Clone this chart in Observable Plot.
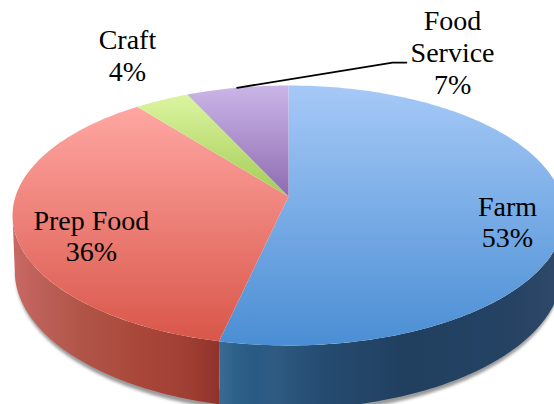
<!DOCTYPE html>
<html>
<head>
<meta charset="utf-8">
<script src="https://cdn.jsdelivr.net/npm/d3@7"></script>
<script src="https://cdn.jsdelivr.net/npm/@observablehq/plot@0.6"></script>
<style>
html,body{margin:0;padding:0;background:#fff;overflow:hidden}
svg{display:block;overflow:hidden}
</style>
</head>
<body>
<div id="chart"></div>
<script>
// Values (clockwise from 12 o'clock)
const categories = ["Farm", "Prep Food", "Craft", "Food Service"];
const values = [53.5, 35.9, 3.7, 6.9];
const labels = ["Farm\n53%", "Prep Food\n36%", "Craft\n4%", "Food\nService\n7%"];
const labelX = [0.802, -0.722, -0.59, 0.601];
const labelY = [-0.195, -0.305, 1.115, 1.14];
const topStops = [
  ["#a6c9f7", "#4a8ed4"],
  ["#ffa7a2", "#d9564a"],
  ["#dcf5a0", "#a4cc55"],
  ["#cbb6e8", "#8e6bb0"]
];
const wallStops = [
  [[0,"#3a6a94"],[.05,"#2c618a"],[.1,"#285a84"],[.16,"#2f5a82"],[.3,"#254b70"],[.55,"#213f5f"],[.8,"#244263"],[.92,"#2b4566"],[1,"#304a6a"]],
  [[0,"#c96864"],[.15,"#bc5f57"],[.35,"#b05447"],[.6,"#a9483a"],[.85,"#9f3e32"],[1,"#8f332b"]]
];

// Perspective of the disc
const W = 554, H = 404, tilt = 0.146, depth = 0.425, bottomScale = 0.992;
const rad = d => d * Math.PI / 180;
const proj = (deg, drop = 0, sx = 1) => {
  const s = Math.sin(rad(deg)), c = Math.cos(rad(deg)), q = 1 + tilt * c;
  return {x: sx * s / q, y: (c - drop) / q};
};
const arc = (a0, a1, drop = 0, sx = 1) => {
  const n = Math.max(2, Math.ceil(Math.abs(a1 - a0)));
  return d3.range(n + 1).map(i => proj(a0 + (a1 - a0) * i / n, drop, sx));
};

const total = d3.sum(values);
let acc = 0;
const slices = values.map((v, i) => {
  const a0 = acc; acc += v / total * 360;
  return {i, a0, a1: acc};
});
const visStart = Math.acos(-tilt) * 180 / Math.PI, visEnd = 360 - visStart;

const wallPoly = (a0, a1) => {
  const t = arc(a0, a1), b = arc(a1, a0, depth, bottomScale);
  return [...t, ...b];
};
const walls = [
  wallPoly(visStart, slices[0].a1),
  wallPoly(slices[1].a0, visEnd)
];
const shadow = [...arc(visStart, visEnd, depth + 0.03, bottomScale - 0.004), ...arc(visEnd, visStart, depth - 0.1, 0.97)];
const tops = slices.map(s => [{x: 0, y: 0}, ...arc(s.a0, s.a1), {x: 0, y: 0}]);

const mid = proj((slices[3].a0 + slices[3].a1) / 2);
const leader = [mid, {x: 0.381, y: 1.053}, {x: 0.432, y: 1.053}];

function defs() {
  const ns = "http://www.w3.org/2000/svg";
  const d = document.createElementNS(ns, "defs");
  const grad = (id, x2, y2, stops) => {
    const g = document.createElementNS(ns, "linearGradient");
    g.setAttribute("id", id);
    g.setAttribute("x1", 0); g.setAttribute("y1", 0);
    g.setAttribute("x2", x2); g.setAttribute("y2", y2);
    stops.forEach(([o, c]) => {
      const s = document.createElementNS(ns, "stop");
      s.setAttribute("offset", o); s.setAttribute("stop-color", c);
      g.appendChild(s);
    });
    d.appendChild(g);
  };
  topStops.forEach((c, i) => grad("top" + i, 0, 1, [[0, c[0]], [1, c[1]]]));
  wallStops.forEach((c, i) => grad("wall" + i, 1, 0, c));
  const f = document.createElementNS(ns, "filter");
  f.setAttribute("id", "soft");
  const b = document.createElementNS(ns, "feGaussianBlur");
  b.setAttribute("stdDeviation", 1.4);
  f.appendChild(b); d.appendChild(f);
  const g = document.createElementNS(ns, "g");
  g.appendChild(d);
  return g;
}

const blur = (index, scales, channels, dims, ctx, next) => {
  const g = next(index, scales, channels, dims, ctx);
  g.setAttribute("filter", "url(#soft)");
  return g;
};

const plot = Plot.plot({
  width: W, height: H, margin: 0,
  x: {domain: [-288 / 273, (W - 288) / 273], range: [0, W], axis: null},
  y: {domain: [(196 - H) / 127.2, 196 / 127.2], range: [H, 0], axis: null},
  marks: [
    defs,
    Plot.line(shadow, {x: "x", y: "y", fill: "#9a9a9a", stroke: "none", render: blur}),
    ...walls.map((w, i) => Plot.line(w, {x: "x", y: "y", fill: `url(#wall${i})`, stroke: "none"})),
    ...tops.map((t, i) => Plot.line(t, {x: "x", y: "y", fill: `url(#top${i})`, stroke: "none"})),
    Plot.line(leader, {x: "x", y: "y", stroke: "#000", strokeWidth: 1.8, curve: "linear"}),
    Plot.text(labels, {
      x: (d, i) => labelX[i], y: (d, i) => labelY[i],
      text: d => d, fontFamily: "Liberation Serif", fontSize: 28, lineHeight: 1.14,
      fill: "#000", textAnchor: "middle"
    })
  ]
});
document.getElementById("chart").appendChild(plot);
</script>
</body>
</html>
